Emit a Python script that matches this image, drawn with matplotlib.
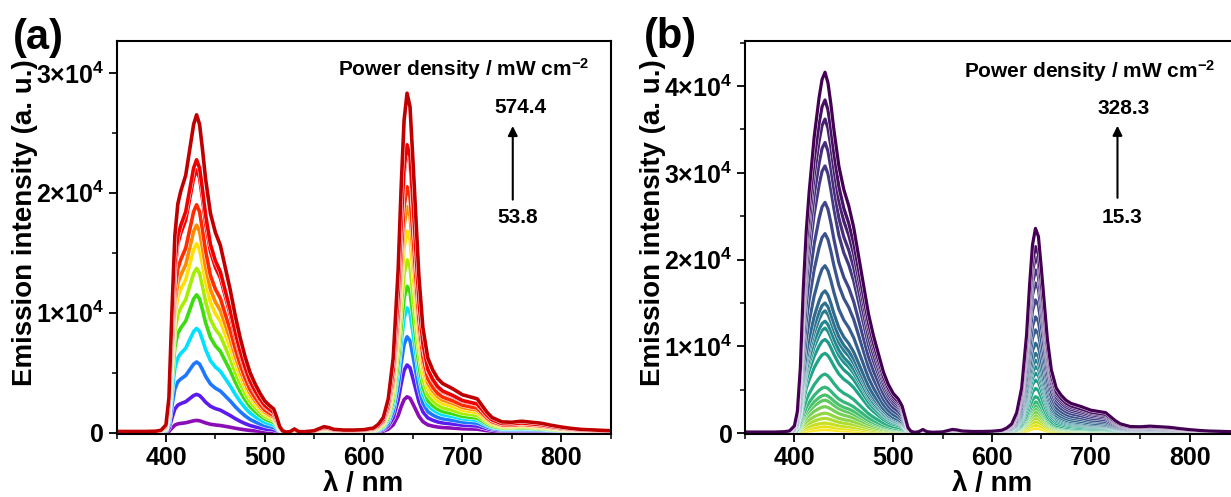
import numpy as np
import matplotlib
matplotlib.use("Agg")
import matplotlib.pyplot as plt
import matplotlib.patheffects as pe
from matplotlib.ticker import MultipleLocator, FuncFormatter

plt.rcParams['font.family'] = ['Liberation Sans', 'DejaVu Sans']
plt.rcParams['font.weight'] = 'bold'
plt.rcParams['mathtext.fontset'] = 'custom'
plt.rcParams['mathtext.rm'] = 'Liberation Sans:bold'
plt.rcParams['mathtext.bf'] = 'Liberation Sans:bold'
plt.rcParams['mathtext.it'] = 'Liberation Sans:bold:italic'

# wavelength grid (nm) and normalised band shapes
wavelength = [350, 360, 370, 380, 390, 395, 400, 403, 406, 409, 412, 415, 420, 425, 428,
              431, 434, 437, 440, 445, 450, 455, 460, 465, 470, 475, 480, 485, 490, 495,
              500, 505, 509, 512, 515, 518, 522, 526, 530, 534, 540, 550, 560, 565, 570,
              580, 590, 600, 610, 615, 620, 625, 630, 635, 638, 641, 644, 647, 650, 653,
              656, 660, 665, 670, 675, 680, 690, 700, 710, 715, 720, 725, 730, 740, 750,
              760, 770, 780, 790, 800, 810, 820, 835, 850]
blue_band_a = [.004, .004, .004, .004, .005, .008, .025, .11, .38, .62, .72, .76, .81, .91, .97,
               1.0, .97, .89, .80, .69, .63, .59, .52, .45, .37, .30, .24, .19, .155, .125,
               .10, .085, .075, .05, .02, .006, .002, .004, .012, .004, .001, 0, 0, 0, 0,
               0, 0, 0, 0, 0, 0, 0, 0, 0, 0, 0, 0, 0, 0, 0,
               0, 0, 0, 0, 0, 0, 0, 0, 0, 0, 0, 0, 0, 0, 0,
               0, 0, 0, 0, 0, 0, 0, 0, 0]
blue_band_b = [.003, .003, .003, .003, .004, .006, .02, .06, .18, .40, .56, .67, .82, .93, .98,
               1.0, .97, .91, .84, .74, .675, .63, .57, .49, .41, .33, .27, .22, .17, .135,
               .11, .095, .075, .045, .015, .005, .002, .004, .01, .004, .001, 0, 0, 0, 0,
               0, 0, 0, 0, 0, 0, 0, 0, 0, 0, 0, 0, 0, 0, 0,
               0, 0, 0, 0, 0, 0, 0, 0, 0, 0, 0, 0, 0, 0, 0,
               0, 0, 0, 0, 0, 0, 0, 0, 0]
red_band = [0, 0, 0, 0, 0, 0, 0, 0, 0, 0, 0, 0, 0, 0, 0,
            0, 0, 0, 0, 0, 0, 0, 0, 0, 0, 0, 0, 0, 0, 0,
            0, 0, 0, 0, 0, 0, 0, 0, 0, 0, .002, .006, .018, .015, .010,
            .008, .008, .009, .014, .025, .045, .10, .22, .48, .72, .92, 1.0, .96, .80, .63,
            .46, .31, .22, .185, .16, .145, .13, .112, .104, .10, .08, .06, .045, .032, .031,
            .034, .031, .028, .022, .017, .013, .010, .008, .006]

# (a) peak heights, low -> high power density (53.8 ... 574.4 mW cm^-2)
blue_peak_a = [1030, 3200, 5900, 8700, 11500, 13700, 15750, 17300, 19000, 21900, 22750, 26500]
red_peak_a = [3000, 5650, 8000, 10400, 12200, 14400, 16800, 18850, 20500, 23500, 24000, 28300]
colors_a = ['#8A0DB5', '#5A1AF0', '#1E78FF', '#00E0FF', '#3CDC10', '#A6EE00',
            '#FFE000', '#FF8A00', '#FF2A00', '#FF0000', '#EE0000', '#C00000']

# (b) peak heights, low -> high power density (15.3 ... 328.3 mW cm^-2)
blue_peak_b = [400, 750, 1150, 1700, 2300, 3050, 3800, 4400, 5300, 6800, 9200, 10800, 12100,
               12900, 14100, 15000, 16400, 19300, 23000, 26600, 30800, 33500, 36200, 38400, 41600]
red_peak_b = [540, 900, 1300, 1700, 2100, 2450, 2850, 3200, 3600, 4200, 5150, 6100, 6900,
              7650, 8400, 9200, 10350, 11900, 13400, 15350, 17300, 18800, 20300, 21500, 23600]

wl = np.array(wavelength)

fig = plt.figure(figsize=(12.31, 4.97), dpi=100)
ax_a = fig.add_axes([0.0947, 0.1268, 0.4013, 0.7907])
ax_b = fig.add_axes([0.6052, 0.1268, 0.4013, 0.7907])


def sci_fmt(v, pos):
    if v == 0:
        return '0'
    return '%d×10$^{4}$' % round(v / 1e4)


def style(ax, ymax):
    ax.set_xlim(350, 850)
    ax.set_ylim(-100, ymax)
    ax.xaxis.set_major_locator(MultipleLocator(100))
    ax.xaxis.set_minor_locator(MultipleLocator(50))
    ax.yaxis.set_major_locator(MultipleLocator(1e4))
    ax.yaxis.set_minor_locator(MultipleLocator(5e3))
    ax.yaxis.set_major_formatter(FuncFormatter(sci_fmt))
    ax.tick_params(which='major', direction='out', length=6, width=1.3, labelsize=18, pad=3)
    ax.tick_params(which='minor', direction='out', length=3.5, width=1.1)
    for s in ax.spines.values():
        s.set_linewidth(1.5)
    ax.set_xlabel('λ / nm', fontsize=20, fontweight='bold')
    ax.set_ylabel('Emission intensity (a. u.)', fontsize=20, fontweight='bold')
    ax.xaxis.set_label_coords(0.5, -0.095)
    ax.yaxis.set_label_coords(-0.16, 0.537)


for b, r, c in zip(blue_peak_a, red_peak_a, colors_a):
    y = b * np.array(blue_band_a) + r * np.array(red_band)
    ax_a.plot(wl, y, color=c, lw=2.6,
              path_effects=[pe.Stroke(linewidth=3.3, foreground='white'), pe.Normal()])

cols_b = plt.cm.viridis(np.linspace(1, 0, len(blue_peak_b)))
for b, r, c in zip(blue_peak_b, red_peak_b, cols_b):
    y = b * np.array(blue_band_b) + r * np.array(red_band)
    ax_b.plot(wl, y, color=c, lw=2.3,
              path_effects=[pe.Stroke(linewidth=2.9, foreground='white'), pe.Normal()])

style(ax_a, 32650)
style(ax_b, 45200)

# annotations
ax_a.text(829, 30340, 'Power density / mW cm$^{-2}$', ha='right', va='center', fontsize=15)
ax_a.text(759, 27100, '574.4', ha='center', va='center', fontsize=15)
ax_a.text(756, 17950, '53.8', ha='center', va='center', fontsize=15)
ax_a.annotate('', xy=(751, 25800), xytext=(751, 19200),
              arrowprops=dict(arrowstyle='-|>', color='k', lw=1.5, mutation_scale=14))

ax_b.text(826, 41720, 'Power density / mW cm$^{-2}$', ha='right', va='center', fontsize=15)
ax_b.text(733, 37470, '328.3', ha='center', va='center', fontsize=15)
ax_b.text(732, 24830, '15.3', ha='center', va='center', fontsize=15)
ax_b.annotate('', xy=(727, 35750), xytext=(727, 26800),
              arrowprops=dict(arrowstyle='-|>', color='k', lw=1.5, mutation_scale=14))

fig.text(0.031, 0.924, '(a)', ha='center', va='center', fontsize=30, fontweight='bold')
fig.text(0.545, 0.926, '(b)', ha='center', va='center', fontsize=30, fontweight='bold')

fig.savefig('out.png', dpi=100)
